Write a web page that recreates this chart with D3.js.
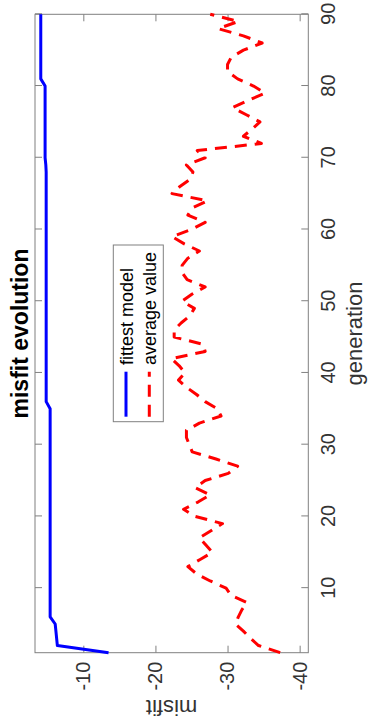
<!DOCTYPE html>
<html>
<head>
<meta charset="utf-8">
<script src="https://cdn.jsdelivr.net/npm/d3@7"></script>
<style>
  html, body { margin: 0; padding: 0; background: #fff; }
  svg { display: block; }
  text { font-family: "Liberation Sans", Arial, Helvetica, sans-serif; }
</style>
</head>
<body>
<svg id="chart" width="369" height="727"></svg>
<script>
// ---- data ----
const generations = [1,2,3,4,5,6,7,8,9,10,11,12,13,14,15,16,17,18,19,20,21,22,23,24,25,26,27,28,29,30,
  31,32,33,34,35,36,37,38,39,40,41,42,43,44,45,46,47,48,49,50,51,52,53,54,55,56,57,58,59,60,
  61,62,63,64,65,66,67,68,69,70,71,72,73,74,75,76,77,78,79,80,81,82,83,84,85,86,87,88,89,90];

const fittest = [-13.5,-6.4,-6.3,-6.2,-6.1,-5.4,-5.4,-5.4,-5.4,-5.4,
  -5.4,-5.4,-5.4,-5.4,-5.4,-5.4,-5.4,-5.4,-5.4,-5.4,
  -5.4,-5.4,-5.4,-5.4,-5.4,-5.4,-5.4,-5.4,-5.4,-5.4,
  -5.4,-5.4,-5.4,-5.4,-5.4,-4.85,-4.85,-4.85,-4.85,-4.85,
  -4.85,-4.85,-4.85,-4.85,-4.85,-4.85,-4.85,-4.85,-4.85,-4.85,
  -4.85,-4.85,-4.85,-4.85,-4.85,-4.85,-4.85,-4.85,-4.85,-4.85,
  -4.85,-4.85,-4.85,-4.85,-4.85,-4.85,-4.85,-4.85,-4.8,-4.7,
  -4.7,-4.7,-4.7,-4.7,-4.7,-4.7,-4.7,-4.7,-4.7,-4.7,
  -4.1,-4.1,-4.1,-4.1,-4.1,-4.1,-4.1,-4.1,-4.1,-4.1];

const average = [-37.3,-34.3,-33.2,-32.2,-31.1,-31.5,-32.0,-32.7,-30.5,-29.8,
  -27.6,-25.7,-24.5,-26.2,-27.9,-27.0,-26.1,-27.7,-29.3,-25.5,
  -23.9,-25.9,-27.6,-25.5,-26.9,-30.1,-31.4,-28.4,-25.1,-24.7,
  -24.3,-24.3,-26.1,-29.1,-28.6,-26.9,-25.7,-24.3,-23.2,-24.1,
  -23.3,-22.2,-26.9,-26.6,-22.6,-22.6,-23.6,-24.8,-25.4,-23.7,
  -25.1,-26.9,-24.4,-23.7,-23.7,-24.5,-26.1,-24.0,-22.3,-25.0,
  -26.9,-24.5,-25.1,-27.2,-22.3,-23.4,-24.8,-25.2,-24.3,-26.9,
  -25.8,-34.7,-32.2,-33.4,-34.5,-32.6,-30.7,-32.9,-35.2,-33.6,
  -31.4,-30.0,-30.0,-30.5,-32.2,-34.8,-32.2,-28.7,-31.5,-27.6];

const genTicks = [10,20,30,40,50,60,70,80,90];
const misfitTicks = [-10,-20,-30,-40];
const seriesNames = ["fittest model", "average value"];
const titleText = "misfit evolution";
const xLabelText = "generation";
const yLabelText = "misfit";

// ---- layout (chart is drawn in a frame rotated 90deg counter-clockwise) ----
const W = 727, H = 369;
const plot = { left: 74.3, right: 712.7, top: 35, bottom: 308.3 };
const axisColor = "#808080";
const tickLen = 7;

const svg = d3.select("#chart");
const g = svg.append("g").attr("transform", `translate(0,${W}) rotate(-90)`);

const x = d3.scaleLinear().domain([1, 90]).range([plot.left, plot.right]);
const y = d3.scaleLinear().domain([-3.3, -41.2]).range([plot.top, plot.bottom]);

// box
g.append("rect")
  .attr("x", plot.left).attr("y", plot.top)
  .attr("width", plot.right - plot.left).attr("height", plot.bottom - plot.top)
  .attr("fill", "#fff").attr("stroke", axisColor).attr("stroke-width", 1);

function styleAxis(sel) {
  sel.select(".domain").remove();
  sel.selectAll(".tick line").attr("stroke", axisColor).attr("stroke-width", 1);
  sel.selectAll(".tick text").attr("fill", "#333").style("font-size", "20px");
}

// bottom (generation) axis
const xAxis = g.append("g").attr("transform", `translate(0,${plot.bottom})`)
  .call(d3.axisBottom(x).tickValues(genTicks).tickSizeInner(-tickLen).tickSizeOuter(0)
    .tickPadding(12.5).tickFormat(d => String(d)));
styleAxis(xAxis);

// top ticks
const xAxisTop = g.append("g").attr("transform", `translate(0,${plot.top})`)
  .call(d3.axisTop(x).tickValues(genTicks).tickSizeInner(-tickLen).tickSizeOuter(0).tickFormat(""));
styleAxis(xAxisTop);

// left (misfit) axis
const yAxis = g.append("g").attr("transform", `translate(${plot.left},0)`)
  .call(d3.axisLeft(y).tickValues(misfitTicks).tickSizeInner(-tickLen).tickSizeOuter(0)
    .tickPadding(9).tickFormat(d => String(d)));
styleAxis(yAxis);

// right ticks
const yAxisRight = g.append("g").attr("transform", `translate(${plot.right},0)`)
  .call(d3.axisRight(y).tickValues(misfitTicks).tickSizeInner(-tickLen).tickSizeOuter(0).tickFormat(""));
styleAxis(yAxisRight);

// lines
const lineGen = d3.line().x((d, i) => x(generations[i])).y(d => y(d));

g.append("path").datum(fittest)
  .attr("d", lineGen)
  .attr("fill", "none").attr("stroke", "#0000ff").attr("stroke-width", 3)
  .attr("stroke-linejoin", "round");

g.append("path").datum(average)
  .attr("d", lineGen)
  .attr("fill", "none").attr("stroke", "#ff0000").attr("stroke-width", 3)
  .attr("stroke-dasharray", "12,8")
  .attr("stroke-linejoin", "round");

// title
g.append("text")
  .attr("x", (plot.left + plot.right) / 2).attr("y", 28)
  .attr("text-anchor", "middle")
  .style("font-size", "23px").style("font-weight", "bold").attr("fill", "#000")
  .text(titleText);

// x label
g.append("text")
  .attr("x", (plot.left + plot.right) / 2).attr("y", 362)
  .attr("text-anchor", "middle")
  .style("font-size", "22px").attr("fill", "#333")
  .text(xLabelText);

// y label
g.append("text")
  .attr("transform", `translate(27,${(plot.top + plot.bottom) / 2}) rotate(-90)`)
  .attr("text-anchor", "middle")
  .style("font-size", "22px").attr("fill", "#333")
  .text(yLabelText);

// legend
const leg = g.append("g");
leg.append("rect")
  .attr("x", 305.3).attr("y", 113.3).attr("width", 176.7).attr("height", 50)
  .attr("fill", "#fff").attr("stroke", axisColor).attr("stroke-width", 1);
const legRows = [
  { name: seriesNames[0], color: "#0000ff", dash: null, ly: 126, ty: 132.8 },
  { name: seriesNames[1], color: "#ff0000", dash: "12,8", ly: 149.3, ty: 156.3 }
];
legRows.forEach(r => {
  leg.append("line")
    .attr("x1", 310.3).attr("x2", 355.3).attr("y1", r.ly).attr("y2", r.ly)
    .attr("stroke", r.color).attr("stroke-width", 3)
    .attr("stroke-dasharray", r.dash);
  leg.append("text")
    .attr("x", 362).attr("y", r.ty)
    .style("font-size", "18px").attr("fill", "#000")
    .text(r.name);
});
</script>
</body>
</html>
